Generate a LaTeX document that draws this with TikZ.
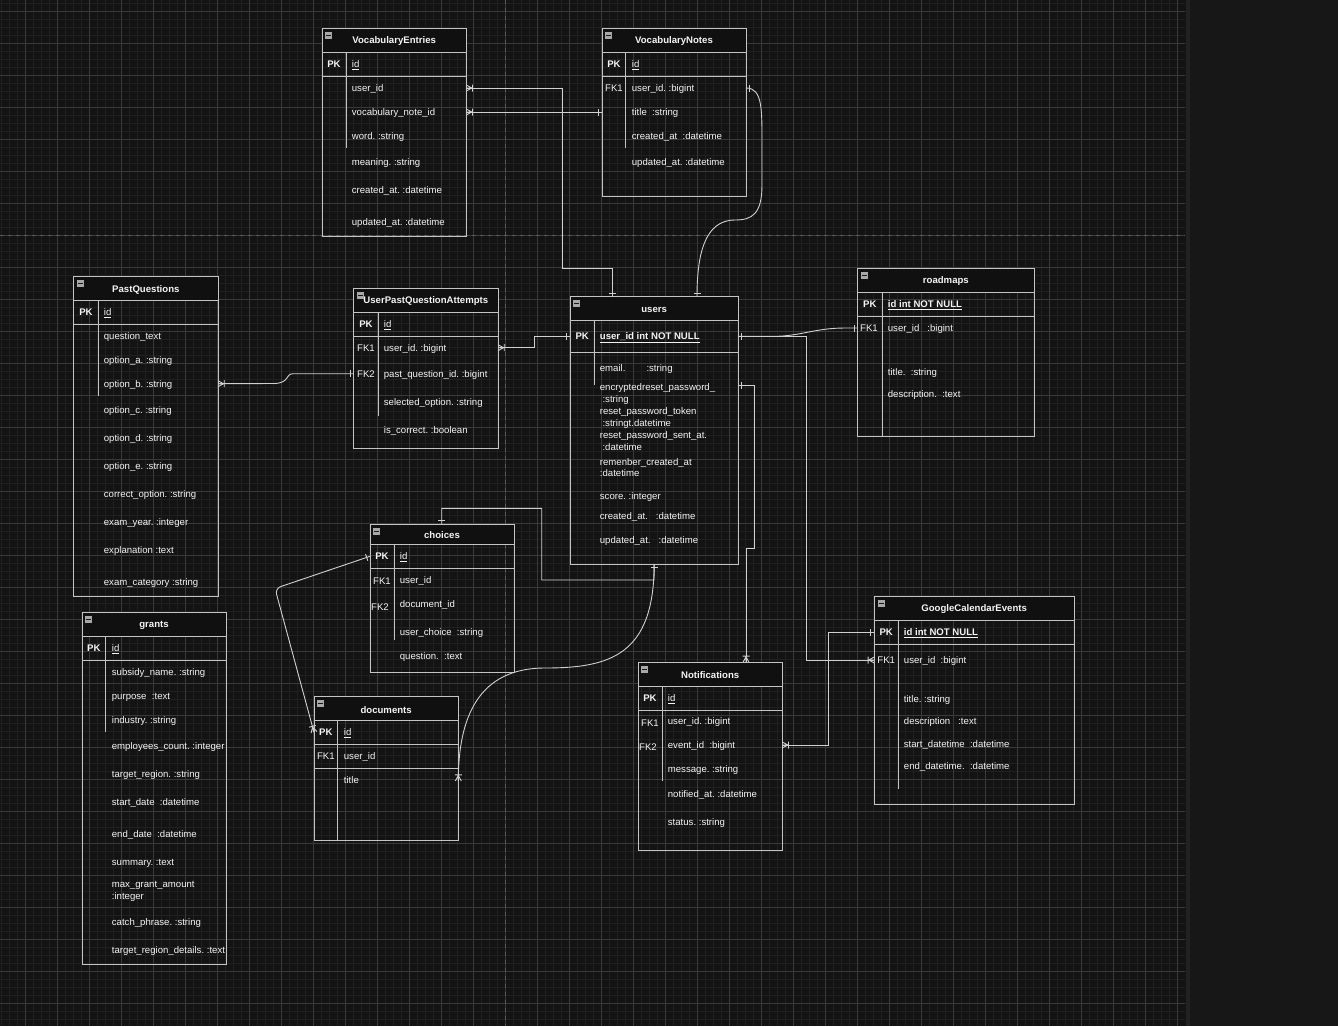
\documentclass[tikz,border=0pt]{standalone}
\usepackage{fontspec}
\setmainfont{Liberation Sans}
\definecolor{bgc}{HTML}{131313}
\definecolor{minc}{HTML}{202020}
\definecolor{majc}{HTML}{3A3A3A}
\definecolor{pbc}{HTML}{5A5A5A}
\definecolor{sidec}{HTML}{171717}
\definecolor{stripc}{HTML}{222222}
\definecolor{tblc}{HTML}{C4C4C4}
\definecolor{connc}{HTML}{D0D0D0}
\definecolor{hdrc}{HTML}{101010}
\definecolor{txtc}{HTML}{F4F4F4}
\definecolor{iconc}{HTML}{A8A8A8}
\definecolor{iconl}{HTML}{1A1A1A}
\newcommand{\fsz}{\fontsize{9.6pt}{11pt}\selectfont}
\tikzset{
  conn/.style={draw=connc, line width=0.9pt},
  tblline/.style={draw=tblc, line width=1pt},
  tblbox/.style={draw=tblc, line width=1pt, inner sep=0pt, outer sep=0pt},
  ttl/.style={inner sep=0pt, yshift=-1.2pt, font=\fsz\bfseries, text=txtc},
  fld/.style={anchor=west, inner sep=0pt, text height=8pt, text depth=1pt, font=\fsz, text=txtc},
  pkey/.style={inner sep=0pt, text height=8pt, text depth=1pt, font=\fsz\bfseries, text=txtc},
  fkey/.style={inner sep=0pt, text height=8pt, text depth=1pt, font=\fsz, text=txtc},
  iconbox/.style={minimum size=7pt, inner sep=0pt, fill=iconc},
  crowbar/.pic={\draw[conn] (0,-3) -- (5.5,0) (0,3) -- (5.5,0) (0,0) -- (6,0) (6.2,-3.5) -- (6.2,3.5);},
  onebar/.pic={\draw[conn] (3.5,-3.5) -- (3.5,3.5);}
}
% name/title, left, top, right, bottom, header bottom, pk bottom, key x, key line bottom
\newcommand{\ertable}[9]{%
  \fill[hdrc] (#2,#3) rectangle (#4,#6);
  \node[tblbox, minimum width={#4-#2}, minimum height={#5-#3}, anchor=north west] (#1) at (#2,#3) {};
  \draw[tblline] (#2,#6) -- (#4,#6) (#2,#7) -- (#4,#7) (#8,#6) -- (#8,#9);
  \node[ttl] (#1-title) at ({(#2+#4)/2},{(#3+#6)/2}) {#1};
  \node[iconbox] (#1-icon) at ({#2+6.8},{#3+7.1}) {};
  \draw[iconl, line width=1pt] ([xshift=1.3pt]#1-icon.west) -- ([xshift=-1.3pt]#1-icon.east);
}
\newcommand{\fld}[4]{\node[fld] (#1) at (#2,#3) {#4};}
\newcommand{\pk}[3]{\node[pkey] (#1) at (#2,#3) {PK};}
\newcommand{\fk}[4]{\node[fkey] (#1) at (#2,#3) {#4};}
\begin{document}
\begin{tikzpicture}[x=1pt, y=-1pt]
\useasboundingbox (0,0) rectangle (1338,1026);
% background and grid
\fill[bgc] (0,0) rectangle (1338,1026);
\draw[minc, line width=1.1pt] \foreach \gx in {1.5,9.5,...,1185} {(\gx,0) -- (\gx,1026)};
\draw[minc, line width=1.1pt] \foreach \gy in {3.3,11.3,...,1026} {(0,\gy) -- (1185,\gy)};
\draw[majc, line width=1pt] \foreach \gx in {25.5,57.5,...,1185} {(\gx,0) -- (\gx,1026)};
\draw[majc, line width=1pt] \foreach \gy in {11.3,43.3,...,1026} {(0,\gy) -- (1185,\gy)};
\draw[pbc, line width=1.5pt, dash pattern=on 4pt off 4pt] (505.5,0) -- (505.5,1026);
\draw[pbc, line width=1.5pt, dash pattern=on 4pt off 4pt] (0,235.5) -- (1185,235.5);
\fill[sidec] (1186,0) rectangle (1338,1026);
\fill[stripc] (1186,0) rectangle (1190,1026);

% ---------- VocabularyEntries
\ertable{VocabularyEntries}{322}{28.3}{466.3}{236}{52.3}{76}{346}{148}
\pk{ve-pk}{334}{64}
\fld{ve-id}{351.7}{64}{\underline{id}}
\fld{ve-uid}{351.7}{88}{user\_id}
\fld{ve-vnid}{351.7}{112}{vocabulary\_note\_id}
\fld{ve-word}{351.7}{136}{word.~:string}
\fld{ve-mean}{351.7}{162}{meaning.~:string}
\fld{ve-cr}{351.7}{190}{created\_at.~:datetime}
\fld{ve-up}{351.7}{222}{updated\_at.~:datetime}

% ---------- VocabularyNotes
\ertable{VocabularyNotes}{602}{28.3}{746}{196.3}{52.3}{76}{625.7}{148}
\pk{vn-pk}{614}{64}
\fld{vn-id}{631.7}{64}{\underline{id}}
\fk{vn-fk1}{614}{88}{FK1}
\fld{vn-uid}{631.7}{88}{user\_id.~:bigint}
\fld{vn-title}{631.7}{112}{title~~:string}
\fld{vn-cr}{631.7}{136}{created\_at~~:datetime}
\fld{vn-up}{631.7}{162}{updated\_at.~:datetime}

% ---------- PastQuestions
\ertable{PastQuestions}{73.7}{276.3}{218}{596}{300.3}{324.3}{98.3}{396}
\pk{pq-pk}{86}{312.3}
\fld{pq-id}{103.7}{312.3}{\underline{id}}
\fld{pq-qt}{103.7}{335.7}{question\_text}
\fld{pq-oa}{103.7}{359.7}{option\_a.~:string}
\fld{pq-ob}{103.7}{383.7}{option\_b.~:string}
\fld{pq-oc}{103.7}{409.7}{option\_c.~:string}
\fld{pq-od}{103.7}{437.7}{option\_d.~:string}
\fld{pq-oe}{103.7}{465.7}{option\_e.~:string}
\fld{pq-co}{103.7}{493.7}{correct\_option.~:string}
\fld{pq-ey}{103.7}{521.7}{exam\_year.~:integer}
\fld{pq-ex}{103.7}{549.7}{explanation~:text}
\fld{pq-ec}{103.7}{581.7}{exam\_category~:string}

% ---------- UserPastQuestionAttempts
\ertable{UserPastQuestionAttempts}{353.7}{288.3}{498}{448.3}{312.3}{336.3}{378.3}{416}
\pk{upqa-pk}{366}{324.3}
\fld{upqa-id}{383.7}{324.3}{\underline{id}}
\fk{upqa-fk1}{366}{347.7}{FK1}
\fk{upqa-fk2}{366}{373.7}{FK2}
\fld{upqa-uid}{383.7}{347.7}{user\_id.~:bigint}
\fld{upqa-pq}{383.7}{373.7}{past\_question\_id.~:bigint}
\fld{upqa-so}{383.7}{401.7}{selected\_option.~:string}
\fld{upqa-ic}{383.7}{429.7}{is\_correct.~:boolean}

% ---------- users
\ertable{users}{570}{296.7}{738.3}{564.3}{320.3}{352.3}{594.3}{385}
\pk{u-pk}{582.2}{336.3}
\fld{u-id}{599.7}{336.3}{\bfseries\underline{user\_id int NOT NULL}}
\fld{u-em}{599.7}{367.7}{email.\hspace{21pt}:string}
\fld{u-enc}{599.7}{387}{encryptedreset\_password\_}
\fld{u-enc2}{599.7}{398.7}{~:string}
\fld{u-rpt}{599.7}{411}{reset\_password\_token}
\fld{u-rpt2}{599.7}{422.7}{~:stringt.datetime}
\fld{u-rps}{599.7}{435}{reset\_password\_sent\_at.}
\fld{u-rps2}{599.7}{446.7}{~:datetime}
\fld{u-rc}{599.7}{462}{remenber\_created\_at}
\fld{u-rc2}{599.7}{472.7}{:datetime}
\fld{u-sc}{599.7}{496}{score.~:integer}
\fld{u-cr}{599.7}{515.7}{created\_at.~~~:datetime}
\fld{u-up}{599.7}{539.7}{updated\_at.~~~:datetime}

% ---------- roadmaps
\ertable{roadmaps}{857.7}{268.3}{1034}{436.3}{292.3}{316.3}{882}{436.3}
\pk{rm-pk}{869.8}{304.3}
\fld{rm-id}{887.7}{304.3}{\bfseries\underline{id int NOT NULL}}
\fk{rm-fk1}{869}{328}{FK1}
\fld{rm-fk}{887.7}{328}{user\_id~~~:bigint}
\fld{rm-title}{887.7}{371.7}{title.~~:string}
\fld{rm-desc}{887.7}{393.7}{description.~~:text}

% ---------- GoogleCalendarEvents
\ertable{GoogleCalendarEvents}{874.3}{596.3}{1074}{804.3}{620.3}{644.3}{898}{788.7}
\pk{gce-pkl}{886.2}{632.3}
\fld{gce-pk}{903.7}{632.3}{\bfseries\underline{id int NOT NULL}}
\fk{gce-fk1}{886.2}{660}{FK1}
\fld{gce-fk}{903.7}{660}{user\_id~~:bigint}
\fld{gce-title}{903.7}{699}{title.~:string}
\fld{gce-desc}{903.7}{720.7}{description~~~:text}
\fld{gce-sd}{903.7}{743.7}{start\_datetime~~:datetime}
\fld{gce-ed}{903.7}{765.7}{end\_datetime.~~:datetime}

% ---------- grants
\ertable{grants}{82}{612.7}{226}{964}{636.3}{660.3}{105.7}{732.3}
\pk{gr-pk}{93.8}{648.3}
\fld{gr-id}{111.7}{648.3}{\underline{id}}
\fld{gr-1}{111.7}{672}{subsidy\_name.~:string}
\fld{gr-2}{111.7}{696}{purpose~~:text}
\fld{gr-3}{111.7}{720}{industry.~:string}
\fld{gr-4}{111.7}{746}{employees\_count.~:integer}
\fld{gr-5}{111.7}{774}{target\_region.~:string}
\fld{gr-6}{111.7}{801.7}{start\_date~~:datetime}
\fld{gr-7}{111.7}{833.7}{end\_date~~:datetime}
\fld{gr-8}{111.7}{861.7}{summary.~:text}
\fld{gr-9}{111.7}{884}{max\_grant\_amount}
\fld{gr-9b}{111.7}{896}{:integer}
\fld{gr-10}{111.7}{921.7}{catch\_phrase.~:string}
\fld{gr-11}{111.7}{949.7}{target\_region\_details.~:text}

% ---------- documents
\ertable{documents}{314}{696.7}{458.3}{840}{720.3}{744.3}{337.7}{840}
\draw[tblline] (314,768.3) -- (458.3,768.3);
\pk{doc-pk}{325.8}{732.3}
\fld{doc-id}{343.7}{732.3}{\underline{id}}
\fk{doc-fk1}{325.8}{756.3}{FK1}
\fld{doc-uid}{343.7}{756.3}{user\_id}
\fld{doc-title}{343.7}{779.7}{title}

% ---------- choices
\ertable{choices}{370}{524.3}{514}{672.3}{544.3}{568.3}{394}{640.3}
\pk{ch-pk}{382}{556.3}
\fld{ch-id}{399.7}{556.3}{\underline{id}}
\fk{ch-fk1}{382}{581.3}{FK1}
\fk{ch-fk2}{380}{606.7}{FK2}
\fld{ch-uid}{399.7}{580}{user\_id}
\fld{ch-did}{399.7}{603.7}{document\_id}
\fld{ch-uc}{399.7}{632}{user\_choice~~:string}
\fld{ch-q}{399.7}{655.7}{question.~~:text}

% ---------- Notifications
\ertable{Notifications}{638}{662.3}{782.3}{850.3}{686.3}{710.3}{662}{781}
\pk{no-pk}{650}{698.3}
\fld{no-id}{667.7}{698.3}{\underline{id}}
\fk{no-fk1}{650}{723.3}{FK1}
\fk{no-fk2}{648}{746.7}{FK2}
\fld{no-uid}{667.7}{721}{user\_id.~:bigint}
\fld{no-eid}{667.7}{745}{event\_id~~:bigint}
\fld{no-msg}{667.7}{769}{message.~:string}
\fld{no-na}{667.7}{793.7}{notified\_at.~:datetime}
\fld{no-st}{667.7}{821.7}{status.~:string}

% ---------- connector end points
\coordinate (e1a) at (VocabularyEntries.east |- ve-uid);
\coordinate (e1b) at (users.north -| 612,0);
\coordinate (e2a) at (VocabularyEntries.east |- ve-vnid);
\coordinate (e2b) at (VocabularyNotes.west |- ve-vnid);
\coordinate (e3a) at (VocabularyNotes.east |- vn-uid);
\coordinate (e3b) at (users.north -| 697,0);
\coordinate (e4a) at (users.west |- u-pk);
\coordinate (e4b) at (UserPastQuestionAttempts.east |- upqa-uid);
\coordinate (e5a) at (UserPastQuestionAttempts.west |- upqa-pq);
\coordinate (e5b) at (PastQuestions.east |- pq-ob);
\coordinate (e6a) at (users.east |- u-pk);
\coordinate (e6b) at (roadmaps.west |- rm-fk);
\coordinate (e7b) at (GoogleCalendarEvents.west |- gce-fk);
\coordinate (e8a) at (users.east |- 0,385);
\coordinate (e8b) at (Notifications.north -| 746,0);
\coordinate (e9a) at (users.south);
\coordinate (e9b) at (choices.north -| 441.7,0);
\coordinate (e10b) at (documents.east |- 0,781);
\coordinate (e11a) at (choices.west |- ch-pk);
\coordinate (e11b) at (documents.west |- doc-pk);
\coordinate (e12a) at (Notifications.east |- 0,745);
\coordinate (e12b) at (GoogleCalendarEvents.west |- gce-pk);

% ---------- connectors
\draw[conn] (e1a) -| (562,268) -| (e1b);
\draw[conn] (e2a) -- (e2b);
\draw[conn] (e3a) .. controls (763,88) and (762,110) .. (762,150) -- (762,185)
  .. controls (762,214) and (752,220) .. (735,220) .. controls (704,220) and (697,256) .. (e3b);
\draw[conn] (e4a) -| (534,347.7) -- (e4b);
\draw[conn] (e5a) -- (293,373.7) .. controls (285,373.9) and (290,382.6) .. (275,383.5) -- (e5b);
\draw[conn] (e6a) -- (774,336.3) .. controls (800,336.3) and (815,328) .. (845,328) -- (e6b);
\draw[conn] (e6a) -| (806,660) -- (e7b);
\draw[conn] (e8a) -| (754,548.3) -| (e8b);
\draw[conn] (e9a) -- (654,580) -| (541.7,508.3) -| (e9b);
\draw[conn] (e9a) .. controls (654,655) and (610,668) .. (545,668) .. controls (478,668) and (458.3,718) .. (e10b);
\draw[conn, rounded corners=6pt] (e11a) -- (275,588.5) -- (e11b);
\draw[conn] (e12a) -| (828.3,632.3) -- (e12b);

% ---------- cardinality marks
\pic[rotate=0] at (e1a) {crowbar};
\pic[rotate=90] at (e1b) {onebar};
\pic[rotate=0] at (e2a) {crowbar};
\pic[rotate=180] at (e2b) {onebar};
\pic[rotate=0] at (e3a) {onebar};
\pic[rotate=90] at (e3b) {onebar};
\pic[rotate=180] at (e4a) {onebar};
\pic[rotate=0] at (e4b) {crowbar};
\pic[rotate=180] at (e5a) {onebar};
\pic[rotate=0] at (e5b) {crowbar};
\pic[rotate=0] at (e6a) {onebar};
\pic[rotate=180] at (e6b) {onebar};
\pic[rotate=180] at (e7b) {crowbar};
\pic[rotate=0] at (e8a) {onebar};
\pic[rotate=90] at (e8b) {crowbar};
\pic[rotate=-90] at (e9a) {onebar};
\pic[rotate=90] at (e9b) {onebar};
\pic[rotate=90] at (e10b) {crowbar};
\pic[rotate=198.9] at (e11a) {onebar};
\pic[rotate=105] at (e11b) {crowbar};
\pic[rotate=0] at (e12a) {crowbar};
\pic[rotate=180] at (e12b) {onebar};
\end{tikzpicture}
\end{document}
